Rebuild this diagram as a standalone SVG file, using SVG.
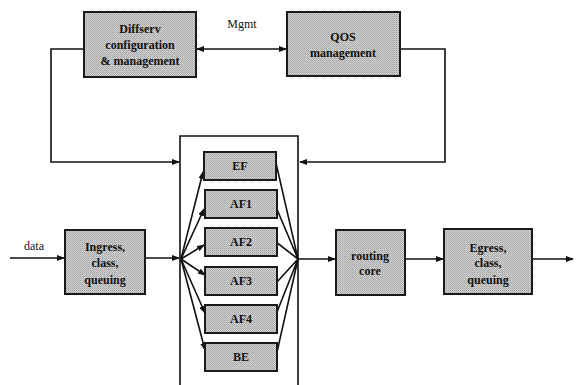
<svg xmlns="http://www.w3.org/2000/svg" width="577" height="385" viewBox="0 0 577 385">
<defs>
<pattern id="stip" width="2" height="2" patternUnits="userSpaceOnUse">
<rect width="2" height="2" fill="#d4d4d4"/>
<rect width="1" height="1" fill="#a0a0a0"/>
<rect x="1" y="1" width="1" height="1" fill="#b0b0b0"/>
</pattern>
<marker id="ah" markerWidth="8" markerHeight="6" refX="7" refY="3" orient="auto" markerUnits="userSpaceOnUse">
<path d="M0,0 L8,3 L0,6 Z" fill="#111"/>
</marker>
<marker id="as" markerWidth="8" markerHeight="6" refX="1" refY="3" orient="auto" markerUnits="userSpaceOnUse">
<path d="M8,0 L0,3 L8,6 Z" fill="#111"/>
</marker>
</defs>
<style>
.box{fill:url(#stip);stroke:#1a1a1a;stroke-width:2}
.t{font-family:"Liberation Serif","Times New Roman",serif;font-weight:bold;font-size:12px;fill:#111;text-anchor:middle}
.n{font-family:"Liberation Serif","Times New Roman",serif;font-size:12px;fill:#111;text-anchor:middle}
.c{fill:none;stroke:#111;stroke-width:1.6}
.a{fill:none;stroke:#111;stroke-width:1.6;marker-end:url(#ah)}
</style>
<rect width="577" height="385" fill="#fff"/>
<g id="connectors">
<path class="c" d="M180,386 V136 H298 V386"/>
<path class="a" d="M84,49 H51 V162 H179"/>
<path class="a" d="M400,49 H445 V162 H300"/>
<path class="c" d="M197,49 H286" marker-start="url(#as)" marker-end="url(#ah)"/>
<path class="a" d="M10,258 H64"/>
<path class="a" d="M145,258 H179"/>
<path class="a" d="M181,259 L203,172"/>
<path class="a" d="M181,259 L204,209"/>
<path class="a" d="M181,259 L204,245"/>
<path class="a" d="M181,259 L205,275"/>
<path class="a" d="M181,259 L205,313"/>
<path class="a" d="M181,259 L205,350"/>
<path class="c" d="M276,163 L298,259 M276,207 L298,259 M276,242 L298,259 M277,282 L298,259 M277,312 L298,259 M277,352 L298,259"/>
<path class="a" d="M298,259 H335"/>
<path class="a" d="M405,259 H443"/>
<path class="a" d="M532,259 H573"/>
</g>
<text class="n" x="242" y="28">Mgmt</text>
<text class="n" x="34" y="250">data</text>
<g id="diffserv">
<rect class="box" x="84" y="12" width="112" height="65"/>
<text class="t" x="140" y="33">Diffserv</text>
<text class="t" x="140" y="49">configuration</text>
<text class="t" x="140" y="65">&amp; management</text>
</g>
<g id="qos">
<rect class="box" x="287" y="12" width="113" height="64"/>
<text class="t" x="343" y="41">QOS</text>
<text class="t" x="343" y="57">management</text>
</g>
<g id="ingress">
<rect class="box" x="65" y="230" width="80" height="64"/>
<text class="t" x="105" y="251">Ingress,</text>
<text class="t" x="105" y="267">class,</text>
<text class="t" x="105" y="284">queuing</text>
</g>
<g id="ef"><rect class="box" x="204" y="152" width="72" height="28"/><text class="t" x="240" y="170">EF</text></g>
<g id="af1"><rect class="box" x="205" y="190" width="72" height="28"/><text class="t" x="241" y="208">AF1</text></g>
<g id="af2"><rect class="box" x="205" y="228" width="72" height="28"/><text class="t" x="241" y="246">AF2</text></g>
<g id="af3"><rect class="box" x="205" y="267" width="72" height="28"/><text class="t" x="241" y="285">AF3</text></g>
<g id="af4"><rect class="box" x="205" y="305" width="72" height="28"/><text class="t" x="241" y="323">AF4</text></g>
<g id="be"><rect class="box" x="205" y="343" width="72" height="28"/><text class="t" x="241" y="361">BE</text></g>
<g id="routing">
<rect class="box" x="336" y="230" width="69" height="65"/>
<text class="t" x="370" y="260">routing</text>
<text class="t" x="370" y="275">core</text>
</g>
<g id="egress">
<rect class="box" x="444" y="229" width="88" height="65"/>
<text class="t" x="488" y="252">Egress,</text>
<text class="t" x="488" y="267">class,</text>
<text class="t" x="488" y="284">queuing</text>
</g>
</svg>
